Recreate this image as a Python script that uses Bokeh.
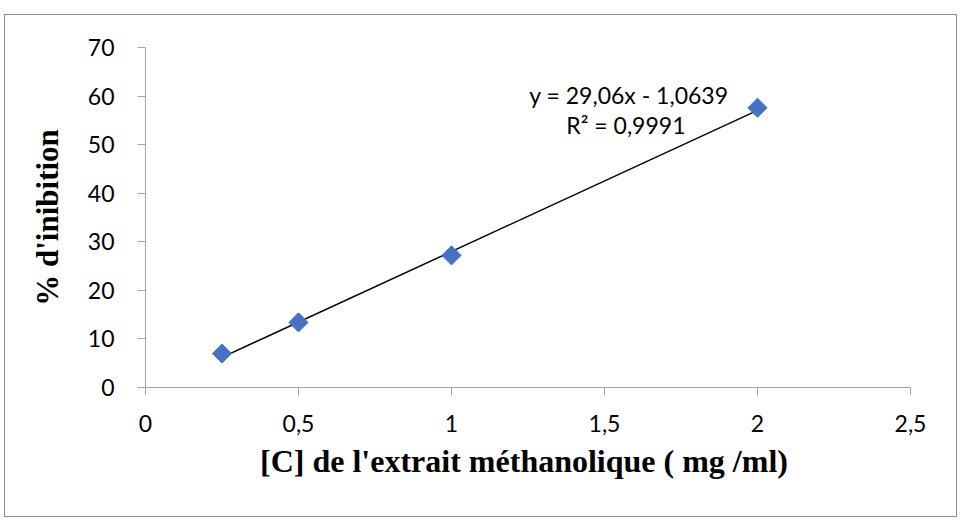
from bokeh.plotting import figure
from bokeh.models import Range1d, Label, FixedTicker, CustomJSTickFormatter
from bokeh.embed import file_html
from bokeh.resources import INLINE
import numpy as np

# data
conc = [0.25, 0.5, 1.0, 2.0]
inhib = [7.0, 13.4, 27.2, 57.6]
slope = 29.06
intercept = -1.0639
eq_text = "y = 29,06x - 1,0639"
r2_text = "R² = 0,9991"
x_ticks = [0, 0.5, 1, 1.5, 2, 2.5]
y_ticks = [0, 10, 20, 30, 40, 50, 60, 70]
x_title = "[C] de l'extrait méthanolique  ( mg /ml)"
y_title = "% d'inibition"

p = figure(width=953, height=503, output_backend="svg", toolbar_location=None,
           x_range=Range1d(0, 2.5), y_range=Range1d(0, 70),
           min_border_left=140, min_border_right=48, min_border_top=32, min_border_bottom=131)
p.margin = (14, 0, 0, 4)
p.styles = {"border": "1px solid #8c8c8c"}
p.outline_line_color = None
p.grid.visible = False

for ax in (p.xaxis[0], p.yaxis[0]):
    ax.axis_line_color = "#a6a6a6"
    ax.major_tick_line_color = "#a6a6a6"
    ax.minor_tick_line_color = None
    ax.major_tick_in = 0
    ax.major_tick_out = 8
    ax.major_label_text_font = "Lato"
    ax.major_label_text_font_size = "23px"
    ax.major_label_text_color = "black"
    ax.axis_label_text_font = "Liberation Serif"
    ax.axis_label_text_font_style = "bold"
    ax.axis_label_text_color = "black"

p.xaxis.axis_label_text_font_size = "32px"
p.yaxis.axis_label_text_font_size = "31px"
p.xaxis.ticker = FixedTicker(ticks=x_ticks)
p.yaxis.ticker = FixedTicker(ticks=y_ticks)
fmt = CustomJSTickFormatter(code="return tick.toString().replace('.', ',');")
p.xaxis.formatter = fmt
p.xaxis.major_label_standoff = 19
p.yaxis.major_label_standoff = 23
p.xaxis.axis_label = x_title
p.yaxis.axis_label = y_title
p.xaxis.axis_label_standoff = 8
p.yaxis.axis_label_standoff = 20

xs = np.array([min(conc), max(conc)])
p.line(xs, slope * xs + intercept, line_color="black", line_width=1.5)
p.scatter(conc, inhib, marker="square", angle=np.pi / 4, size=13.5,
          fill_color="#4472c4", line_color="#4472c4")

p.add_layout(Label(x=1.58, y=60.2, text=eq_text, text_align="center", text_baseline="middle",
                   text_font="Lato", text_font_size="23px", text_color="black"))
p.add_layout(Label(x=1.57, y=54.1, text=r2_text, text_align="center", text_baseline="middle",
                   text_font="Lato", text_font_size="23px", text_color="black"))

open("out.html", "w").write(file_html(p, INLINE))
